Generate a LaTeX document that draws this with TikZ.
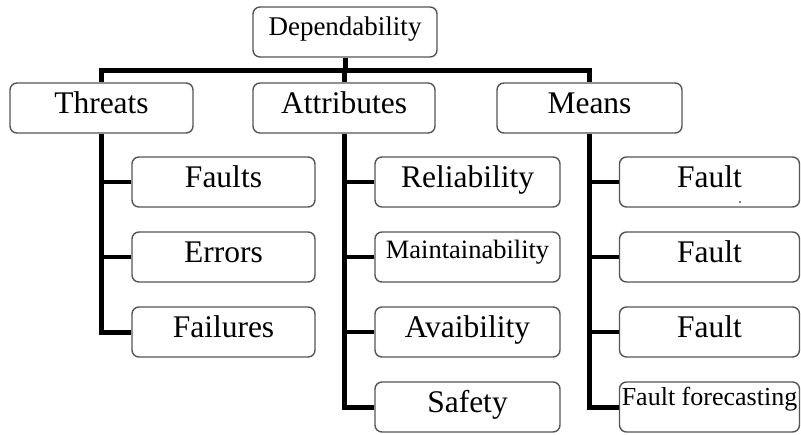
\documentclass[tikz,border=0pt]{standalone}
\usepackage{fontspec}
\setmainfont{Liberation Serif}
\definecolor{boxgray}{HTML}{555555}
\begin{document}
\begin{tikzpicture}[x=1pt,y=-1pt,
  box/.style={draw=boxgray, line width=1.4pt, rounded corners=7pt, fill=white,
    inner sep=0pt, minimum height=50pt, text height=20pt, text depth=10pt,
    font=\fontsize{31.5}{32}\selectfont},
  trunk/.style={line width=5pt, line join=miter},
  branch/.style={line width=4pt}]
\useasboundingbox (0,0) rectangle (801,434);

% root
\node[box, minimum width=184pt, font=\fontsize{27}{28}\selectfont,
      text height=18pt, text depth=12pt] (dep) at (345,32) {Dependability};

% second level
\node[box, minimum width=183pt] (thr) at (101.5,108) {Threats};
\node[box, minimum width=182pt] (att) at (344,108) {Attributes};
\node[box, minimum width=185pt] (mea) at (589.5,108) {Means};

% threats
\node[box, minimum width=183pt] (flt) at (223.5,182) {Faults};
\node[box, minimum width=183pt] (err) at (223.5,257) {Errors};
\node[box, minimum width=183pt] (fai) at (223.5,332) {Failures};

% attributes
\node[box, minimum width=185pt] (rel) at (467.5,182) {Reliability};
\node[box, minimum width=185pt, font=\fontsize{26.5}{27}\selectfont,
      text height=16pt, text depth=14pt] (mnt) at (467.5,257) {Maintainability};
\node[box, minimum width=185pt] (ava) at (467.5,332) {Avaibility};
\node[box, minimum width=185pt] (saf) at (467.5,407) {Safety};

% means
\node[box, minimum width=180pt] (mf1) at (709.5,182) {Fault};
\node[box, minimum width=180pt] (mf2) at (709.5,257) {Fault};
\node[box, minimum width=180pt] (mf3) at (709.5,332) {Fault};
\node[box, minimum width=180pt, font=\fontsize{26}{27}\selectfont,
      text height=13pt, text depth=17pt] (mff) at (709.5,407) {Fault forecasting};
\fill (740,202) circle (0.9pt);

% bus from the root to the second level
\coordinate (bus) at (0,70);
\draw[trunk] (dep.south) -- (dep.south |- bus);
\draw[trunk] (thr.north) -- (thr.north |- bus) -| (mea.north);
\draw[trunk] (att.north) -- (att.north |- bus);

% threats branch
\draw[trunk] (thr.south) |- (fai.west);
\draw[branch] (thr.south |- flt.west) -- (flt.west);
\draw[branch] (thr.south |- err.west) -- (err.west);

% attributes branch
\draw[trunk] (att.south) |- (saf.west);
\draw[branch] (att.south |- rel.west) -- (rel.west);
\draw[branch] (att.south |- mnt.west) -- (mnt.west);
\draw[branch] (att.south |- ava.west) -- (ava.west);

% means branch
\draw[trunk] (mea.south) |- (mff.west);
\draw[branch] (mea.south |- mf1.west) -- (mf1.west);
\draw[branch] (mea.south |- mf2.west) -- (mf2.west);
\draw[branch] (mea.south |- mf3.west) -- (mf3.west);
\end{tikzpicture}
\end{document}
